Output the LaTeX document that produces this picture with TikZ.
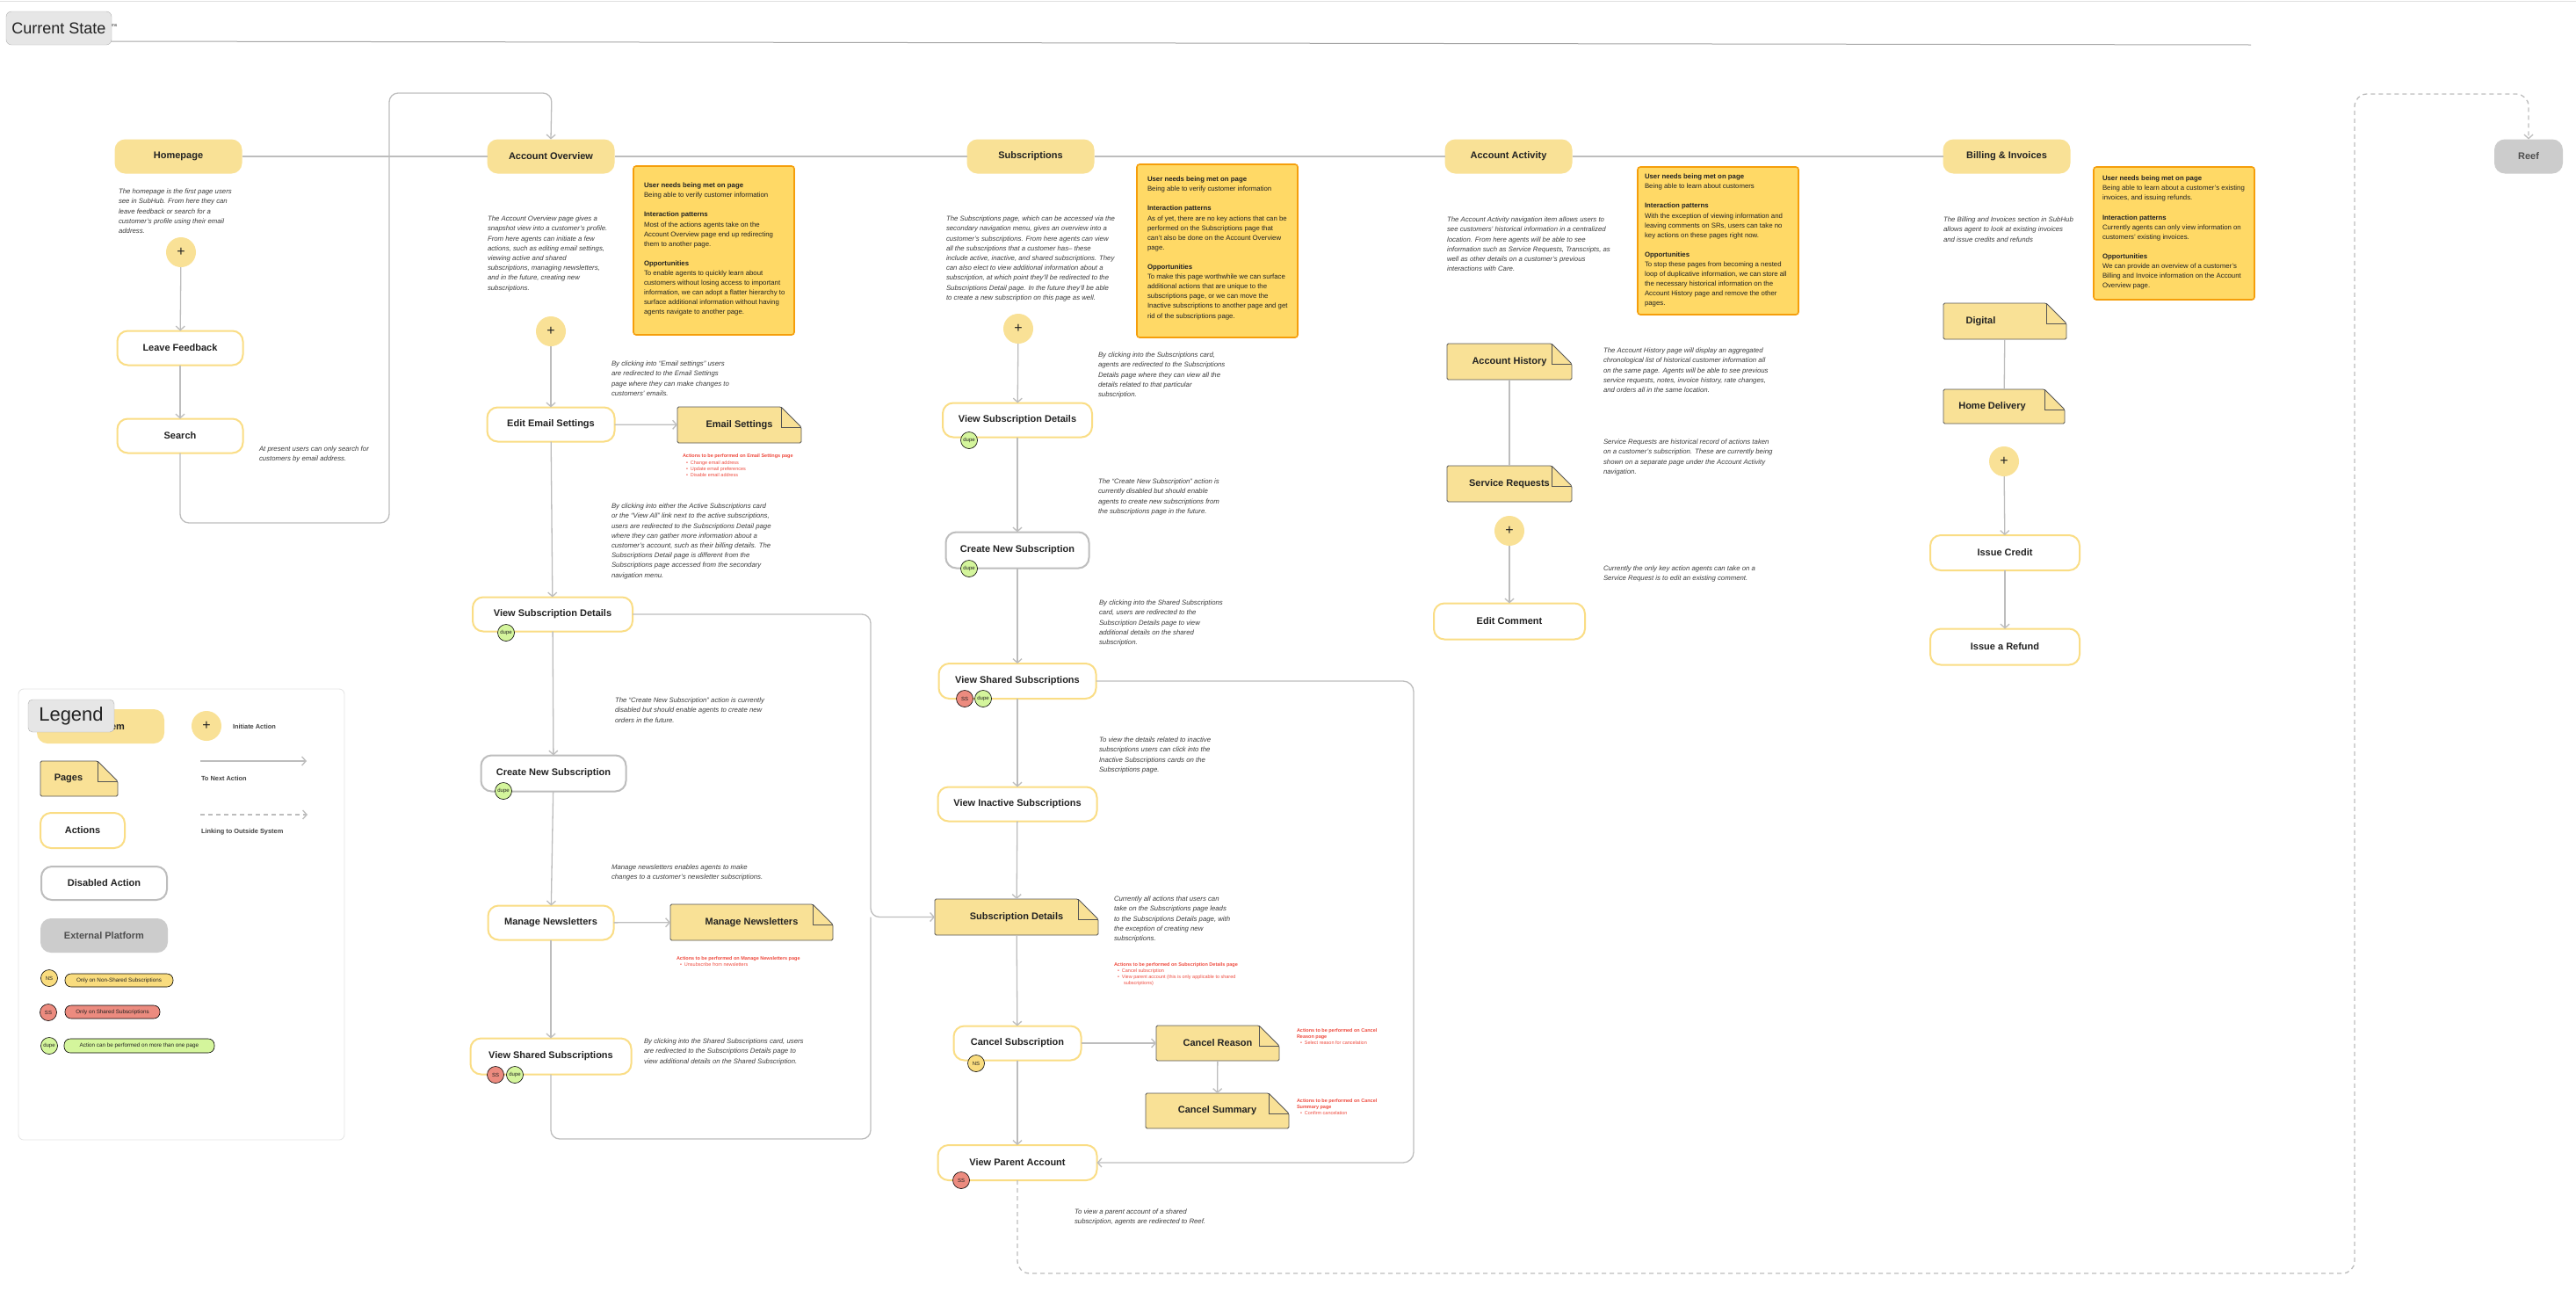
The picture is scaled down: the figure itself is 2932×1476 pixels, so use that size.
\documentclass[tikz,border=0pt]{standalone}
\usepackage{fontspec}
\setmainfont{Liberation Sans}
\usetikzlibrary{arrows.meta}
\definecolor{navfill}{HTML}{F9E196}
\definecolor{actborder}{HTML}{FADD85}
\definecolor{pagefill}{HTML}{F9E196}
\definecolor{pageline}{HTML}{555555}
\definecolor{notefill}{HTML}{FFD966}
\definecolor{noteline}{HTML}{F59E0B}
\definecolor{linegray}{HTML}{BDBDBD}
\definecolor{disgray}{HTML}{BDBDBD}
\definecolor{extgray}{HTML}{CCCCCC}
\definecolor{txt}{HTML}{222222}
\definecolor{desctxt}{HTML}{3C3C3C}
\definecolor{redtxt}{HTML}{EF4B3F}
\definecolor{nsfill}{HTML}{F9DC7E}
\definecolor{ssfill}{HTML}{EC8B7F}
\definecolor{dupefill}{HTML}{D4F59C}
\definecolor{tagfill}{HTML}{E6E6E6}
\definecolor{taggray}{HTML}{B0B0B0}
\definecolor{legline}{HTML}{E3E3E3}
\pgfdeclarelayer{background}
\pgfsetlayers{background,main}
\newcommand\foldpage[1]{%
 \begin{pgfonlayer}{background}
 \filldraw[fill=pagefill, draw=pageline, line width=0.8pt, rounded corners=1.5pt] (#1.south west) -- (#1.north west) -- ([xshift=-23pt]#1.north east) -- ([yshift=-23pt]#1.north east) -- (#1.south east) -- cycle;
 \draw[draw=pageline, line width=0.8pt] ([xshift=-23pt]#1.north east) -- ([xshift=-23pt,yshift=-23pt]#1.north east) -- ([yshift=-23pt]#1.north east);
 \end{pgfonlayer}}
\newcommand\rb[1]{\\\hspace*{4pt}\textbullet\hspace{3pt}#1}
\tikzset{
 every node/.style={inner sep=0pt, outer sep=0pt},
 lbl/.style={font=\bfseries\fontsize{11}{13}\selectfont, text=txt},
 navitem/.style={lbl, rounded corners=12pt, fill=navfill, minimum height=39pt, minimum width=145pt},
 action/.style={lbl, rounded corners=12pt, draw=actborder, line width=2pt, fill=white, minimum height=39pt},
 disabled/.style={action, draw=disgray},
 extplat/.style={navitem, fill=extgray, text=txt!80},
 pagenode/.style={lbl, minimum height=41pt},
 plus/.style={circle, fill=navfill, minimum size=34pt, font=\fontsize{16}{16}\selectfont, text=txt},
 note/.style={draw=noteline, fill=notefill, line width=1.6pt, rounded corners=3pt, anchor=north west},
 notetext/.style={anchor=north west, align=left, font=\fontsize{7.8}{11.1}\selectfont, text=txt},
 desc/.style={anchor=north west, align=left, font=\itshape\fontsize{7.8}{11.2}\selectfont, text=desctxt},
 redtext/.style={anchor=north west, align=left, font=\fontsize{5.5}{7.3}\selectfont, text=redtxt},
 badge/.style={circle, draw=black, line width=0.6pt, minimum size=19pt, font=\fontsize{6}{6}\selectfont, text=txt},
 pill/.style={rounded corners=7pt, draw=black, line width=0.6pt, minimum height=15pt, font=\fontsize{6.3}{7}\selectfont, text=txt},
 leglbl/.style={anchor=west, font=\bfseries\fontsize{7.4}{8}\selectfont, text=txt!85},
 conn/.style={draw=linegray, line width=1.3pt},
 arr/.style={conn, -{Straight Barb[length=4.5pt,width=10pt]}},
 dashconn/.style={conn, dash pattern=on 5pt off 4pt},
}
\begin{document}
\begin{tikzpicture}[x=1pt,y=-1pt]
\useasboundingbox (0,0) rectangle (2932,1476);
\begin{pgfonlayer}{background}
\fill[white] (0,0) rectangle (2932,1476);
\end{pgfonlayer}
\draw[draw=black!12, line width=1pt] (0,1) -- (2932,1);
% header
\node[anchor=west, font=\fontsize{5}{6}\selectfont, text=txt] (hdrsmall) at (124,29) {ems};
\draw[draw=black!35, line width=1pt] (120,47) -- (2562,51);
\node[fill=tagfill, draw=taggray, rounded corners=6pt, minimum width=120pt, minimum height=38pt, font=\fontsize{18}{18}\selectfont, text=txt] (hdr) at (67,32) {Current State};

% ===== top navigation =====
\node[navitem] (home) at (203,178) {Homepage};
\node[navitem] (ao) at (627,178) {Account Overview};
\node[navitem] (subs) at (1173,178) {Subscriptions};
\node[navitem] (aa) at (1717,178) {Account Activity};
\node[navitem] (bi) at (2284,178) {Billing \& Invoices};
\node[extplat, minimum width=78pt] (reef) at (2878,178) {Reef};
\draw[conn] (home) -- (ao); \draw[conn] (ao) -- (subs); \draw[conn] (subs) -- (aa); \draw[conn] (aa) -- (bi);

% ===== Homepage column =====
\node[desc] (dhome) at (135,215) {The homepage is the first page users\\see in SubHub. From here they can\\leave feedback or search for a\\customer's profile using their email\\address.};
\node[plus] (hplus) at (206,287) {+};
\node[action, minimum width=143pt] (lf) at (205,396) {Leave Feedback};
\node[action, minimum width=143pt] (search) at (205,496) {Search};
\node[desc] (dsearch) at (295,508) {At present users can only search for\\customers by email address.};
\draw[arr] (hplus) -- (lf);
\draw[arr] (lf) -- (search);
\draw[arr, rounded corners=10pt] (search.south) -- (205,595) -- (443,595) -- (443,106) -- (628,106) -- (ao.north);

% ===== Account Overview column =====
\node[desc] (dao) at (555,246) {The Account Overview page gives a\\snapshot view into a customer's profile.\\From here agents can initiate a few\\actions, such as editing email settings,\\viewing active and shared\\subscriptions, managing newsletters,\\and in the future, creating new\\subscriptions.};
\node[note, minimum width=183pt, minimum height=192pt] (note1) at (721,189) {};
\node[notetext] (note1t) at (733,208) {\textbf{User needs being met on page}\\Being able to verify customer information\\[11.1pt]\textbf{Interaction patterns}\\Most of the actions agents take on the\\Account Overview page end up redirecting\\them to another page.\\[11.1pt]\textbf{Opportunities}\\To enable agents to quickly learn about\\customers without losing access to important\\information, we can adopt a flatter hierarchy to\\surface additional information without having\\agents navigate to another page.};
\node[plus] (aoplus) at (627,377) {+};
\node[desc] (demail) at (696,411) {By clicking into “Email settings” users\\are redirected to the Email Settings\\page where they can make changes to\\customers' emails.};
\node[action, minimum width=145pt] (ees) at (627,483) {Edit Email Settings};
\node[pagenode, minimum width=141pt] (es) at (841.5,483.5) {Email Settings}; \foldpage{es}
\node[redtext] (redes) at (777,517) {\textbf{Actions to be performed on Email Settings page}\rb{Change email address}\rb{Update email preferences}\rb{Disable email address}};
\node[desc] (dactive) at (696,573) {By clicking into either the Active Subscriptions card\\or the “View All” link next to the active subscriptions,\\users are redirected to the Subscriptions Detail page\\where they can gather more information about a\\customer's account, such as their billing details. The\\Subscriptions Detail page is different from the\\Subscriptions page accessed from the secondary\\navigation menu.};
\node[action, minimum width=182pt] (aovsd) at (629,699) {View Subscription Details};
\node[desc] (daocns) at (700,794) {The “Create New Subscription” action is currently\\disabled but should enable agents to create new\\orders in the future.};
\node[disabled, minimum width=165pt, minimum height=41pt] (aocns) at (630,880) {Create New Subscription};
\node[desc] (dmn) at (696,984) {Manage newsletters enables agents to make\\changes to a customer's newsletter subscriptions.};
\node[action, minimum width=143pt] (aomn) at (627,1050) {Manage Newsletters};
\node[pagenode, minimum width=185pt] (mnp) at (855.5,1049.5) {Manage Newsletters}; \foldpage{mnp}
\node[redtext] (redmn) at (770,1088) {\textbf{Actions to be performed on Manage Newsletters page}\rb{Unsubscribe from newsletters}};
\node[action, minimum width=183pt, minimum height=41pt] (aovss) at (627,1202) {View Shared Subscriptions};
\node[desc] (daovss) at (733,1182) {By clicking into the Shared Subscriptions card, users\\are redirected to the Subscriptions Details page to\\view additional details on the Shared Subscription.};
\node[badge, fill=dupefill] (b1) at (576,720) {dupe};
\node[badge, fill=dupefill] (b2) at (573,900) {dupe};
\node[badge, fill=ssfill] (b3) at (564,1223) {SS};
\node[badge, fill=dupefill] (b4) at (586,1223) {dupe};
\draw[arr] (aoplus) -- (ees);
\draw[arr] (ees) -- (es);
\draw[arr] (ees) -- (aovsd);
\draw[arr] (aovsd) -- (aocns);
\draw[arr] (aocns) -- (aomn);
\draw[arr] (aomn) -- (mnp);
\draw[arr] (aomn) -- (aovss);

% ===== Subscriptions column =====
\node[desc] (dsubs) at (1077,246) {The Subscriptions page, which can be accessed via the\\secondary navigation menu, gives an overview into a\\customer's subscriptions. From here agents can view\\all the subscriptions that a customer has-- these\\include active, inactive, and shared subscriptions. They\\can also elect to view additional information about a\\subscription, at which point they'll be redirected to the\\Subscriptions Detail page. In the future they'll be able\\to create a new subscription on this page as well.};
\node[note, minimum width=183pt, minimum height=197pt] (note2) at (1294,187) {};
\node[notetext] (note2t) at (1306,201) {\textbf{User needs being met on page}\\Being able to verify customer information\\[11.1pt]\textbf{Interaction patterns}\\As of yet, there are no key actions that can be\\performed on the Subscriptions page that\\can't also be done on the Account Overview\\page.\\[11.1pt]\textbf{Opportunities}\\To make this page worthwhile we can surface\\additional actions that are unique to the\\subscriptions page, or we can move the\\Inactive subscriptions to another page and get\\rid of the subscriptions page.};
\node[plus] (splus) at (1159,374) {+};
\node[action, minimum width=170pt] (svsd) at (1158,478) {View Subscription Details};
\node[desc] (dsvsd) at (1250,401) {By clicking into the Subscriptions card,\\agents are redirected to the Subscriptions\\Details page where they can view all the\\details related to that particular\\subscription.};
\node[disabled, minimum width=163pt, minimum height=41pt] (scns) at (1158,626) {Create New Subscription};
\node[desc] (dscns) at (1250,545) {The “Create New Subscription” action is\\currently disabled but should enable\\agents to create new subscriptions from\\the subscriptions page in the future.};
\node[action, minimum width=179pt, minimum height=40pt] (svss) at (1158,775) {View Shared Subscriptions};
\node[desc] (dsvss) at (1251,683) {By clicking into the Shared Subscriptions\\card, users are redirected to the\\Subscription Details page to view\\additional details on the shared\\subscription.};
\node[desc] (dsvis) at (1251,839) {To view the details related to inactive\\subscriptions users can click into the\\Inactive Subscriptions cards on the\\Subscriptions page.};
\node[action, minimum width=181pt] (svis) at (1158,915) {View Inactive Subscriptions};
\node[pagenode, minimum width=186pt] (sd) at (1157,1043.5) {Subscription Details}; \foldpage{sd}
\node[desc] (dsd) at (1268,1020) {Currently all actions that users can\\take on the Subscriptions page leads\\to the Subscriptions Details page, with\\the exception of creating new\\subscriptions.};
\node[redtext] (redsd) at (1268,1095) {\textbf{Actions to be performed on Subscription Details page}\rb{Cancel subscription}\rb{View parent account (this is only applicable to shared}\\\hspace*{11pt}subscriptions)};
\node[action, minimum width=145pt] (scancel) at (1158,1187) {Cancel Subscription};
\node[pagenode, minimum width=140pt, minimum height=40pt] (cr) at (1386,1187) {Cancel Reason}; \foldpage{cr}
\node[pagenode, minimum width=163pt, minimum height=40pt] (cs) at (1385.5,1264) {Cancel Summary}; \foldpage{cs}
\node[redtext] (redcr) at (1476,1170) {\textbf{Actions to be performed on Cancel}\\\textbf{Reason page}\rb{Select reason for cancelation}};
\node[redtext] (redcs) at (1476,1250) {\textbf{Actions to be performed on Cancel}\\\textbf{Summary page}\rb{Confirm cancelation}};
\node[action, minimum width=181pt, minimum height=40pt] (svpa) at (1158,1323) {View Parent Account};
\node[desc] (dsvpa) at (1223,1376) {To view a parent account of a shared\\subscription, agents are redirected to Reef.};
\node[badge, fill=dupefill] (b5) at (1103,501) {dupe};
\node[badge, fill=dupefill] (b6) at (1103,647) {dupe};
\node[badge, fill=ssfill] (b7) at (1098,795) {SS};
\node[badge, fill=dupefill] (b8) at (1119,795) {dupe};
\node[badge, fill=nsfill] (b9) at (1111,1210) {NS};
\node[badge, fill=ssfill] (b10) at (1094,1343) {SS};
\draw[arr] (splus) -- (svsd);
\draw[arr] (svsd) -- (scns);
\draw[arr] (scns) -- (svss);
\draw[arr] (svss) -- (svis);
\draw[arr] (svis) -- (sd);
\draw[arr] (sd) -- (scancel);
\draw[arr] (scancel) -- (svpa);
\draw[arr] (scancel) -- (cr);
\draw[arr] (cr) -- (cs);
\draw[arr, rounded corners=10pt] (aovsd.east) -- (991,699) -- (991,1043.5) -- (sd.west);
\draw[conn, rounded corners=10pt] (aovss.south) -- (627,1296) -- (991,1296) -- (991,1043.5);
\draw[arr, rounded corners=12pt] (svss.east) -- (1609,775) -- (1609,1323) -- (svpa.east);
\draw[dashconn, rounded corners=14pt, -{Straight Barb[length=4.5pt,width=10pt]}] (svpa.south) -- (1158,1449) -- (2680,1449) -- (2680,107) -- (2878,107) -- (reef.north);

% ===== Account Activity column =====
\node[desc] (daa) at (1647,247) {The Account Activity navigation item allows users to\\see customers' historical information in a centralized\\location. From here agents will be able to see\\information such as Service Requests, Transcripts, as\\well as other details on a customer's previous\\interactions with Care.};
\node[note, minimum width=183pt, minimum height=168pt] (note3) at (1864,190) {};
\node[notetext] (note3t) at (1872,198) {\textbf{User needs being met on page}\\Being able to learn about customers\\[11.1pt]\textbf{Interaction patterns}\\With the exception of viewing information and\\leaving comments on SRs, users can take no\\key actions on these pages right now.\\[11.1pt]\textbf{Opportunities}\\To stop these pages from becoming a nested\\loop of duplicative information, we can store all\\the necessary historical information on the\\Account History page and remove the other\\pages.};
\node[pagenode, minimum width=142pt] (ah) at (1718,411.5) {Account History}; \foldpage{ah}
\node[desc] (dah) at (1825,396) {The Account History page will display an aggregated\\chronological list of historical customer information all\\on the same page. Agents will be able to see previous\\service requests, notes, invoice history, rate changes,\\and orders all in the same location.};
\node[pagenode, minimum width=142pt] (sr) at (1718,550.5) {Service Requests}; \foldpage{sr}
\node[desc] (dsr) at (1825,500) {Service Requests are historical record of actions taken\\on a customer's subscription. These are currently being\\shown on a separate page under the Account Activity\\navigation.};
\node[plus] (aaplus) at (1718,604) {+};
\node[action, minimum width=172pt, minimum height=41pt] (ec) at (1718,707) {Edit Comment};
\node[desc] (dec) at (1825,644) {Currently the only key action agents can take on a\\Service Request is to edit an existing comment.};
\draw[conn] (ah) -- (sr);
\draw[arr] (aaplus) -- (ec);

% ===== Billing column =====
\node[desc] (dbi) at (2212,247) {The Billing and Invoices section in SubHub\\allows agent to look at existing invoices\\and issue credits and refunds};
\node[note, minimum width=183pt, minimum height=151pt] (note4) at (2383,190) {};
\node[notetext] (note4t) at (2393,200) {\textbf{User needs being met on page}\\Being able to learn about a customer's existing\\invoices, and issuing refunds.\\[11.1pt]\textbf{Interaction patterns}\\Currently agents can only view information on\\customers' existing invoices.\\[11.1pt]\textbf{Opportunities}\\We can provide an overview of a customer's\\Billing and Invoice information on the Account\\Overview page.};
\node[pagenode, minimum width=140pt] (dig) at (2282,365.5) {\hspace*{-55pt}Digital}; \foldpage{dig}
\node[pagenode, minimum width=138pt, minimum height=39pt] (hd) at (2281,462.5) {\hspace*{-27pt}Home Delivery}; \foldpage{hd}
\node[plus] (biplus) at (2281,525) {+};
\node[action, minimum width=170pt, minimum height=40pt] (ic) at (2282,629) {Issue Credit};
\node[action, minimum width=170pt, minimum height=41pt] (ir) at (2282,736) {Issue a Refund};
\draw[conn] (dig) -- (hd);
\draw[arr] (biplus) -- (ic);
\draw[arr] (ic) -- (ir);

% ===== Legend =====
\node[draw=legline, line width=0.8pt, rounded corners=6pt, minimum width=371pt, minimum height=513pt, anchor=north west] (legbox) at (21,784) {};
\node[navitem] (lgnav) at (114.5,826.5) {};
\node[lbl, anchor=east] (lgnavt) at (142,827.5) {System};
\node[fill=tagfill, draw=taggray, rounded corners=5pt, minimum width=98pt, minimum height=37pt, font=\fontsize{22}{22}\selectfont, text=txt] (legtag) at (81,814.5) {Legend};
\node[plus] (lgplus) at (235,826) {+};
\node[leglbl] (lgplust) at (265,827) {Initiate Action};
\coordinate (ln1) at (228,866); \coordinate (ln2) at (349,866);
\draw[arr] (ln1) -- (ln2);
\node[leglbl] (lgnext) at (229,886) {To Next Action};
\coordinate (ld1) at (228,927); \coordinate (ld2) at (350,927);
\draw[dashconn, -{Straight Barb[length=4.5pt,width=10pt]}] (ld1) -- (ld2);
\node[leglbl] (lgout) at (229,947) {Linking to Outside System};
\node[pagenode, minimum width=88pt, minimum height=40pt] (lgpage) at (90,886) {\hspace*{-24pt}Pages}; \foldpage{lgpage}
\node[action, minimum width=96pt, minimum height=40pt] (lgact) at (94,945) {Actions};
\node[disabled, minimum width=143pt, minimum height=38pt] (lgdis) at (118.5,1005) {Disabled Action};
\node[extplat, minimum width=145pt] (lgext) at (118.5,1064.5) {External Platform};
\node[badge, fill=nsfill] (lgns) at (56,1113) {NS};
\node[pill, fill=nsfill, minimum width=123pt] (lgnst) at (135.5,1115.5) {Only on Non-Shared Subscriptions};
\node[badge, fill=ssfill] (lgss) at (55,1152) {SS};
\node[pill, fill=ssfill, minimum width=108pt] (lgsst) at (128,1151.5) {Only on Shared Subscriptions};
\node[badge, fill=dupefill] (lgdupe) at (56,1190) {dupe};
\node[pill, fill=dupefill, minimum width=171pt, minimum height=16pt] (lgdupet) at (158.5,1190) {Action can be performed on more than one page};
\end{tikzpicture}
\end{document}
